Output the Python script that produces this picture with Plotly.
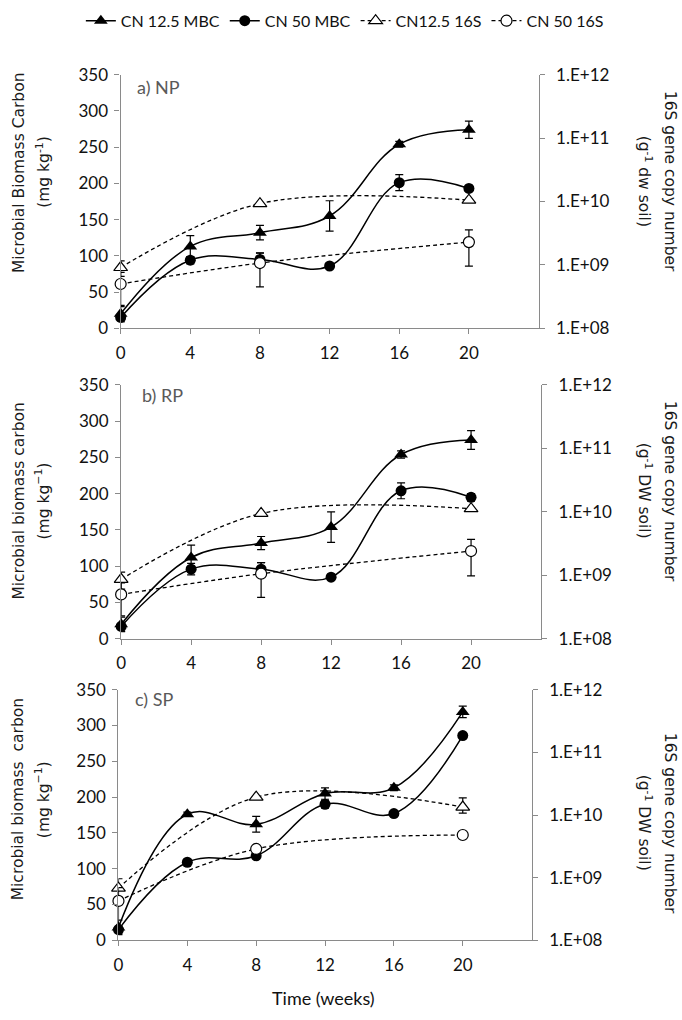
import plotly.graph_objects as go

W, H = 682, 1020

weeks = [0, 4, 8, 12, 16, 20]
weeks_16s = [0, 8, 20]
x_ticks = [0, 4, 8, 12, 16, 20]
log_ticks = [1e8, 1e9, 1e10, 1e11, 1e12]
log_tick_text = ["1.E+08", "1.E+09", "1.E+10", "1.E+11", "1.E+12"]

series_names = ["CN 12.5 MBC", "CN 50 MBC", "CN12.5 16S", "CN 50 16S"]

# ---- Panel a) NP ----
np_mbc_125 = [20, 113, 132, 155, 254, 274]
np_mbc_125_err = [10, 15, 10, 21, 4, 12]
np_mbc_50 = [15, 94, 95, 86, 201, 193]
np_mbc_50_err = [6, 5, 9, 3, 11, 4]
np_16s_125 = [9.1e8, 9.25e9, 1.05e10]
np_16s_125_err_p = [2.5e8, 0, 0]
np_16s_125_err_m = [2.5e8, 0, 0]
np_16s_50 = [5.0e8, 1.07e9, 2.29e9]
np_16s_50_err_p = [2.6e8, 4.6e8, 1.27e9]
np_16s_50_err_m = [2.7e8, 6.2e8, 1.33e9]

# ---- Panel b) RP ----
rp_mbc_125 = [20, 112, 132, 154, 254, 274]
rp_mbc_125_err = [10, 17, 9, 21, 5, 13]
rp_mbc_50 = [17, 96, 96, 85, 204, 195]
rp_mbc_50_err = [6, 8, 9, 3, 11, 5]
rp_16s_125 = [8.65e8, 9.42e9, 1.12e10]
rp_16s_125_err_p = [2.6e8, 0, 0]
rp_16s_125_err_m = [2.6e8, 0, 0]
rp_16s_50 = [5.0e8, 1.06e9, 2.41e9]
rp_16s_50_err_p = [2.6e8, 5.2e8, 1.27e9]
rp_16s_50_err_m = [2.7e8, 6.1e8, 1.43e9]

# ---- Panel c) SP ----
sp_mbc_125 = [18, 176, 162, 205, 213, 319]
sp_mbc_125_err = [10, 3, 11, 8, 4, 8]
sp_mbc_50 = [15, 109, 118, 190, 177, 286]
sp_mbc_50_err = [5, 3, 3, 5, 3, 4]
sp_16s_125 = [6.8e8, 1.93e10, 1.34e10]
sp_16s_125_err_p = [2.8e8, 0, 5.3e9]
sp_16s_125_err_m = [2.8e8, 0, 2.7e9]
sp_16s_50 = [4.25e8, 2.87e9, 4.79e9]
sp_16s_50_err_p = [2.7e8, 0, 0]
sp_16s_50_err_m = [2.7e8, 0, 0]

panels = [
    dict(label="a) NP", mbc125=np_mbc_125, mbc125e=np_mbc_125_err, mbc50=np_mbc_50, mbc50e=np_mbc_50_err,
         s125=np_16s_125, s125p=np_16s_125_err_p, s125m=np_16s_125_err_m,
         s50=np_16s_50, s50p=np_16s_50_err_p, s50m=np_16s_50_err_m,
         lt1="Microbial Biomass Carbon", lt2="(mg kg<sup>-1</sup>)",
         rt1="16S gene copy number", rt2="(g<sup>-1</sup> dw soil)",
         px=(116.5, 537.5), py=(65, 324), lab=(131, 78),
         ltc=164.5, rtc=173.5),
    dict(label="b) RP", mbc125=rp_mbc_125, mbc125e=rp_mbc_125_err, mbc50=rp_mbc_50, mbc50e=rp_mbc_50_err,
         s125=rp_16s_125, s125p=rp_16s_125_err_p, s125m=rp_16s_125_err_m,
         s50=rp_16s_50, s50p=rp_16s_50_err_p, s50m=rp_16s_50_err_m,
         lt1="Microbial biomass carbon", lt2="(mg kg<sup>\u22121</sup>)",
         rt1="16S gene copy number", rt2="(g<sup>-1</sup> DW soil)",
         px=(117, 540), py=(381.7, 641), lab=(136, 392),
         ltc=500, rtc=490),
    dict(label="c) SP", mbc125=sp_mbc_125, mbc125e=sp_mbc_125_err, mbc50=sp_mbc_50, mbc50e=sp_mbc_50_err,
         s125=sp_16s_125, s125p=sp_16s_125_err_p, s125m=sp_16s_125_err_m,
         s50=sp_16s_50, s50p=sp_16s_50_err_p, s50m=sp_16s_50_err_m,
         lt1="Microbial biomass  carbon", lt2="(mg kg<sup>\u22121</sup>)",
         rt1="16S gene copy number", rt2="(g<sup>-1</sup> DW soil)",
         px=(114.3, 530.5), py=(693, 948.8), lab=(129, 702),
         ltc=805, rtc=829),
]

AXIS_GREY = "#8a8a8a"
TICK_FONT = dict(family="Lato", size=17, color="#111111")
TITLE_FONT = dict(family="DejaVu Sans", size=15.5, color="#1a1a1a")

fig = go.Figure()
layout = dict(
    width=W, height=H,
    margin=dict(l=0, r=0, t=0, b=0),
    paper_bgcolor="white", plot_bgcolor="white",
    showlegend=True,
    legend=dict(orientation="h", x=0.502, xanchor="center", y=1 - 10 / H, yanchor="middle",
                font=dict(family="Lato", size=16, color="#111111"),
                itemwidth=30, tracegroupgap=0, bgcolor="rgba(0,0,0,0)"),
)
annotations = []

err_style = dict(color="black", thickness=1.2, width=4)

for i, p in enumerate(panels, start=1):
    xa = "x" if i == 1 else f"x{i}"
    yl = 2 * i - 1
    yr = 2 * i
    yl_name = "y" if yl == 1 else f"y{yl}"
    yr_name = f"y{yr}"
    xdom = [p["px"][0] / W, p["px"][1] / W]
    ydom = [1 - p["py"][1] / H, 1 - p["py"][0] / H]
    show = (i == 1)

    layout["xaxis" if i == 1 else f"xaxis{i}"] = dict(
        domain=xdom, range=[0, 24], anchor=yl_name, tickvals=x_ticks,
        showline=True, linecolor=AXIS_GREY, linewidth=1.3,
        ticks="outside", ticklen=5, tickcolor=AXIS_GREY, tickwidth=1.3,
        showgrid=False, zeroline=False, tickfont=TICK_FONT, ticklabelstandoff=4,
    )
    layout["yaxis" if yl == 1 else f"yaxis{yl}"] = dict(
        domain=ydom, range=[0, 350], dtick=50, tick0=0, anchor=xa,
        showline=True, linecolor=AXIS_GREY, linewidth=1.3,
        ticks="outside", ticklen=5, tickcolor=AXIS_GREY, tickwidth=1.3,
        showgrid=False, zeroline=False, tickfont=TICK_FONT, ticklabelstandoff=3,
    )
    layout[f"yaxis{yr}"] = dict(
        overlaying=yl_name, side="right", anchor=xa, type="log", range=[8, 12],
        tickvals=log_ticks, ticktext=log_tick_text,
        showline=True, linecolor=AXIS_GREY, linewidth=1.3,
        ticks="outside", ticklen=5, tickcolor=AXIS_GREY, tickwidth=1.3,
        showgrid=False, zeroline=False, tickfont=TICK_FONT, ticklabelstandoff=8,
    )

    # 16S dashed series (right axis)
    fig.add_trace(go.Scatter(
        x=weeks_16s, y=p["s125"], xaxis=xa, yaxis=yr_name, name=series_names[2],
        mode="lines+markers", line=dict(color="black", width=1.3, dash="4px,3px", shape="spline", smoothing=1),
        marker=dict(symbol="triangle-up", size=12, color="white", line=dict(color="black", width=1.2)),
        error_y=dict(type="data", symmetric=False, array=p["s125p"], arrayminus=p["s125m"], **err_style),
        showlegend=show, legendrank=3, cliponaxis=False,
    ))
    fig.add_trace(go.Scatter(
        x=weeks_16s, y=p["s50"], xaxis=xa, yaxis=yr_name, name=series_names[3],
        mode="lines+markers", line=dict(color="black", width=1.3, dash="4px,3px", shape="spline", smoothing=1),
        marker=dict(symbol="circle", size=11, color="white", line=dict(color="black", width=1.2)),
        error_y=dict(type="data", symmetric=False, array=p["s50p"], arrayminus=p["s50m"], **err_style),
        showlegend=show, legendrank=4, cliponaxis=False,
    ))
    # MBC solid series (left axis)
    fig.add_trace(go.Scatter(
        x=weeks, y=p["mbc125"], xaxis=xa, yaxis=yl_name, name=series_names[0],
        mode="lines+markers", line=dict(color="black", width=1.5, shape="spline", smoothing=1.1),
        marker=dict(symbol="triangle-up", size=12, color="black"),
        error_y=dict(type="data", array=p["mbc125e"], **err_style),
        showlegend=show, legendrank=1, cliponaxis=False,
    ))
    fig.add_trace(go.Scatter(
        x=weeks, y=p["mbc50"], xaxis=xa, yaxis=yl_name, name=series_names[1],
        mode="lines+markers", line=dict(color="black", width=1.5, shape="spline", smoothing=1.1),
        marker=dict(symbol="circle", size=11, color="black"),
        error_y=dict(type="data", array=p["mbc50e"], **err_style),
        showlegend=show, legendrank=2, cliponaxis=False,
    ))

    # panel label
    annotations.append(dict(text=p["label"], xref="paper", yref="paper",
                            x=p["lab"][0] / W, y=1 - p["lab"][1] / H, xanchor="left", yanchor="middle",
                            showarrow=False, font=dict(family="Lato", size=18, color="#595959")))
    # left titles
    annotations.append(dict(text=p["lt1"], xref="paper", yref="paper", x=14 / W, y=1 - p["ltc"] / H,
                            xanchor="center", yanchor="middle", textangle=-90, showarrow=False, font=TITLE_FONT))
    annotations.append(dict(text=p["lt2"], xref="paper", yref="paper", x=38 / W, y=1 - p["ltc"] / H,
                            xanchor="center", yanchor="middle", textangle=-90, showarrow=False, font=TITLE_FONT))
    # right titles
    annotations.append(dict(text=p["rt1"], xref="paper", yref="paper", x=670 / W, y=1 - p["rtc"] / H,
                            xanchor="center", yanchor="middle", textangle=90, showarrow=False, font=TITLE_FONT))
    annotations.append(dict(text=p["rt2"], xref="paper", yref="paper", x=644 / W, y=1 - p["rtc"] / H,
                            xanchor="center", yanchor="middle", textangle=90, showarrow=False, font=TITLE_FONT))

annotations.append(dict(text="Time (weeks)", xref="paper", yref="paper", x=321 / W, y=1 - 1008 / H,
                        xanchor="center", yanchor="middle", showarrow=False,
                        font=dict(family="Lato", size=18, color="#111111")))

layout["annotations"] = annotations
fig.update_layout(**layout)
fig.write_html("out.html", config={"displayModeBar": False},
               post_script="document.body.style.margin='0px';document.body.style.overflow='hidden';")
